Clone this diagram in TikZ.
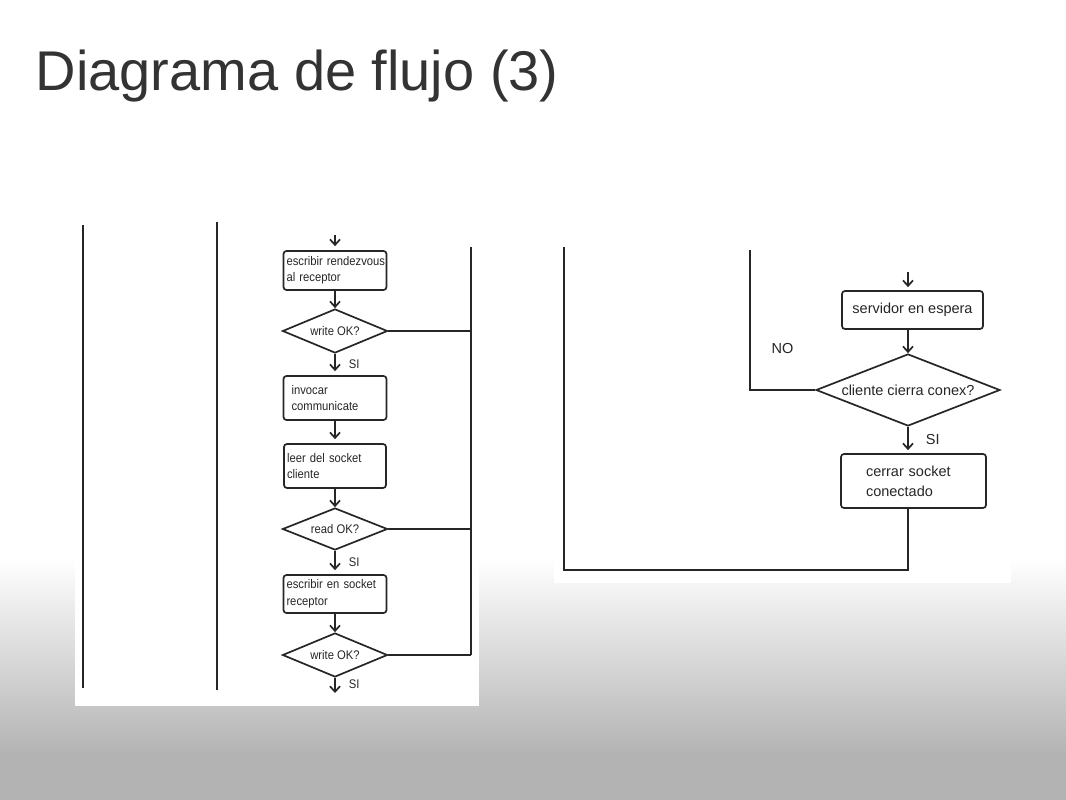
\documentclass[tikz,border=0pt]{standalone}
\usepackage{fontspec}
\setmainfont{Liberation Sans}
\newfontfamily\narrowsans[FakeStretch=0.9]{Liberation Sans}
\usetikzlibrary{shapes.geometric, arrows.meta}
\definecolor{ink}{RGB}{38,38,38}
\definecolor{titlegray}{RGB}{51,51,51}
\definecolor{floor}{RGB}{179,179,179}

\begin{document}
\begin{tikzpicture}[x=1pt, y=-1pt,
  small/.style={font=\narrowsans\fontsize{12.5}{16.5}\selectfont, text=ink},
  big/.style={font=\fontsize{14.5}{20}\selectfont, text=ink},
  box/.style={draw=ink, line width=1.7pt, rounded corners=3pt, align=left, inner ysep=0pt},
  dec/.style={draw=ink, line width=1.7pt, diamond, inner sep=0pt},
  flow/.style={draw=ink, line width=1.7pt},
  arr/.style={flow, -{Straight Barb[length=5.5pt, width=10pt]}},
  yes/.style={anchor=west, inner sep=0pt, xshift=13pt}]
\useasboundingbox (0,0) rectangle (1066,800);
\fill[white] (0,0) rectangle (1066,558);
\shade[top color=white, bottom color=floor] (0,558) rectangle (1066,755);
\fill[floor] (0,755) rectangle (1066,800);
\fill[white] (75,200) rectangle (479,706);
\fill[white] (554,200) rectangle (1011,583);

\node[anchor=base west, inner sep=0pt, text=titlegray, font=\fontsize{56}{60}\selectfont] (title) at (35.6,91) {Diagrama de flujo (3)};

\coordinate (lane1top) at (83,225);
\coordinate (lane1bot) at (83,688);
\coordinate (lane2top) at (217,222);
\coordinate (lane2bot) at (217,690);
\coordinate (lane3top) at (471,247);
\coordinate (lane3bot) at (471,655);
\coordinate (in1) at (335,235);
\coordinate (out1) at (335,693);

\node[box, small, minimum width=103pt, minimum height=39pt, inner xsep=3pt, text width=97pt] (b1) at (335,270.5) {\mbox{escribir rendezvous}\\al receptor};
\node[dec, small, aspect=2.4, minimum width=105pt, minimum height=44pt] (d1) at (335,331) {write OK?};
\node[box, small, minimum width=103pt, minimum height=44pt, inner xsep=8pt, text width=87pt] (b2) at (335,398) {invocar\\communicate};
\node[box, small, minimum width=102pt, minimum height=44pt, inner xsep=3pt, text width=96pt] (b3) at (335,466) {leer del socket\\cliente};
\node[dec, small, aspect=2.5, minimum width=105pt, minimum height=42pt] (d2) at (335,529) {read OK?};
\node[box, small, minimum width=103pt, minimum height=38pt, inner xsep=3pt, text width=97pt] (b4) at (335,594) {escribir en socket\\receptor};
\node[dec, small, aspect=2.4, minimum width=105pt, minimum height=44pt] (d3) at (335,655) {write OK?};

\draw[flow] (lane1top) -- (lane1bot);
\draw[flow] (lane2top) -- (lane2bot);
\draw[flow] (lane3top) -- (lane3bot);
\draw[arr, shorten >=4pt] (in1) -- (b1);
\draw[arr] (b1) -- (d1);
\draw[arr, shorten >=4pt] (d1) -- node[yes, small]{SI} (b2);
\draw[arr, shorten >=4pt] (b2) -- (b3);
\draw[arr] (b3) -- (d2);
\draw[arr, shorten >=4pt] (d2) -- node[yes, small]{SI} (b4);
\draw[arr] (b4) -- (d3);
\draw[arr] (d3) -- node[yes, small, pos=.4]{SI} (out1);
\draw[flow] (d1.east) -- (d1.east -| lane3top);
\draw[flow] (d2.east) -- (d2.east -| lane3top);
\draw[flow] (d3.east) -- (d3.east -| lane3top);

\coordinate (lane4top) at (564,247);
\coordinate (lane5top) at (750,250);
\coordinate (in2) at (908,272);
\coordinate (floorline) at (564,570);

\node[box, big, align=center, minimum width=141pt, minimum height=38pt] (r1) at (912.5,310) {servidor en espera};
\node[dec, big, aspect=2.55, minimum width=184pt, minimum height=72pt] (rd) at (908,390) {cliente cierra conex?};
\node[box, big, minimum width=145pt, minimum height=54pt, inner xsep=25pt, text width=95pt] (r2) at (913.5,481) {cerrar socket\\conectado};

\draw[arr, shorten >=3pt] (in2) -- (in2 |- r1.north);
\draw[arr] (r1.south -| rd.north) -- (rd.north);
\draw[arr, shorten >=3pt] (rd.south) -- node[yes, big, xshift=4pt]{SI} (rd.south |- r2.north);
\draw[flow] (rd.west) -- node[big, yshift=41pt, inner sep=0pt]{NO} (lane5top |- rd.west) -- (lane5top);
\draw[flow] (rd.south |- r2.south) -- (rd.south |- floorline) -- (floorline) -- (lane4top);
\end{tikzpicture}
\end{document}
